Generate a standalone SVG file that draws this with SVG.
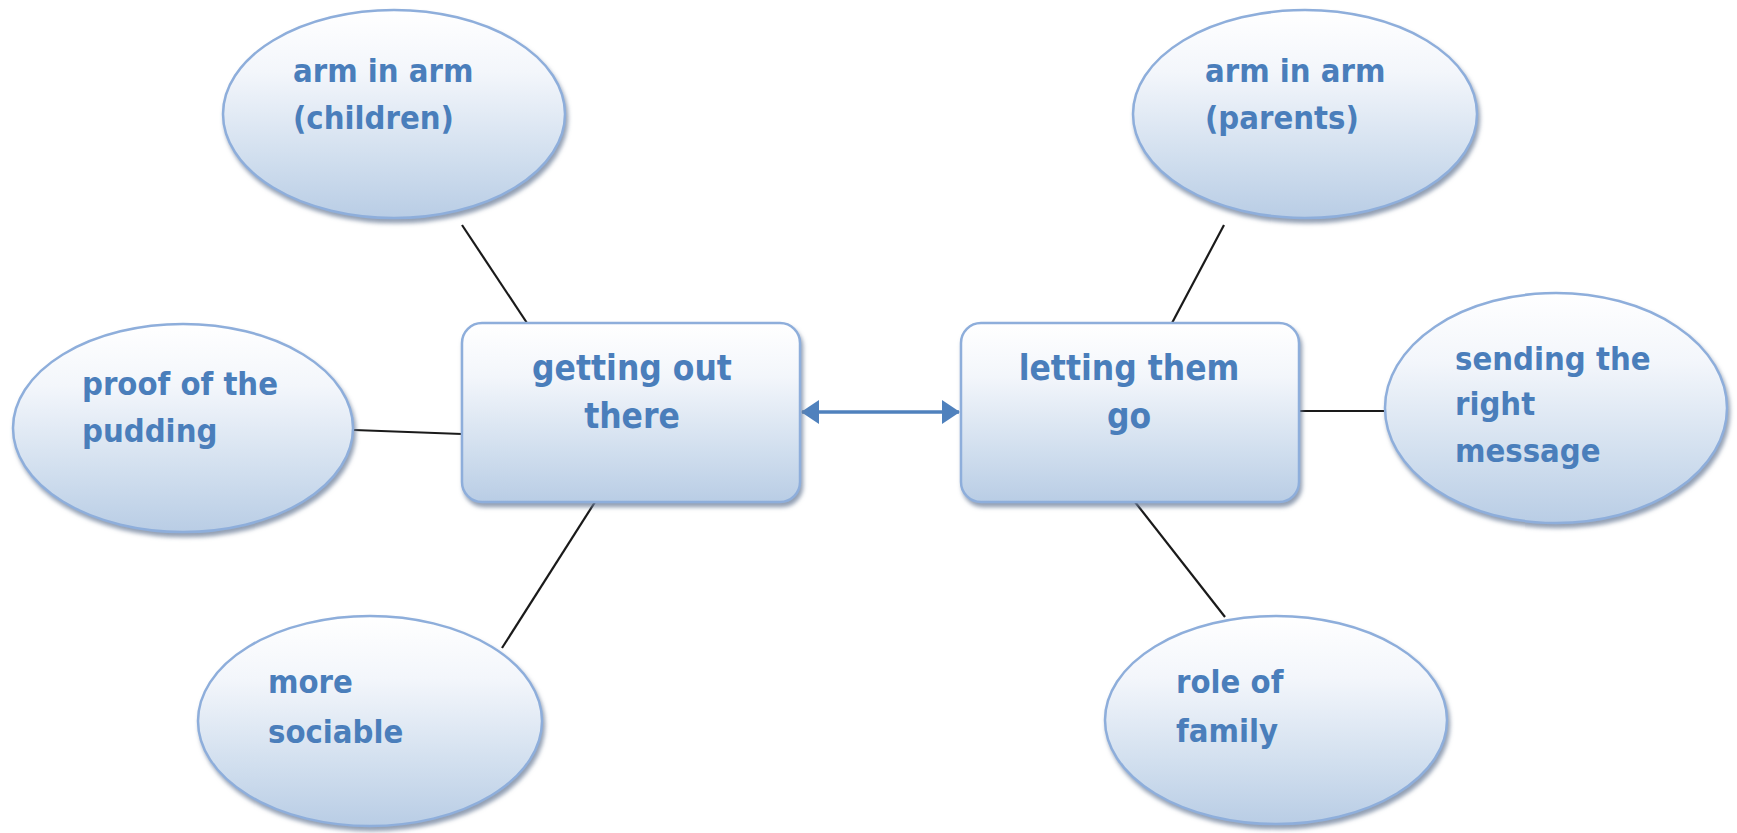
<svg xmlns="http://www.w3.org/2000/svg" width="1737" height="833" viewBox="0 0 1737 833">
<defs>
<linearGradient id="g" x1="0" y1="0" x2="0" y2="1">
<stop offset="0" stop-color="#ffffff"/>
<stop offset="0.3" stop-color="#f3f6fb"/>
<stop offset="0.72" stop-color="#d0deee"/>
<stop offset="1" stop-color="#b9cde5"/>
</linearGradient>
<filter id="sh" x="-10%" y="-10%" width="125%" height="130%">
<feDropShadow dx="2" dy="4" stdDeviation="2" flood-color="#6d7f99" flood-opacity="0.75"/>
</filter>
<marker id="ah" viewBox="0 0 18 24" refX="17" refY="12" markerWidth="18" markerHeight="24" markerUnits="userSpaceOnUse" orient="auto-start-reverse">
<path d="M0,0 L18,12 L0,24 Z" fill="#4f81bd"/>
</marker>
</defs>
<style>
.n{fill:url(#g);stroke:#8eaedb;stroke-width:2.5;filter:url(#sh)}
.t{font-family:"DejaVu Sans Condensed","DejaVu Sans",Tahoma,sans-serif;font-stretch:condensed;font-weight:bold;font-size:32.5px;fill:#4a7ebb}
.c{text-anchor:middle;font-size:35px}
.l{stroke:#1a1a1a;stroke-width:2.2;fill:none}
</style>
<g id="connectors">
<line class="l" x1="462" y1="225" x2="527" y2="323"/>
<line class="l" x1="354" y1="430" x2="462" y2="434"/>
<line class="l" x1="502" y1="648" x2="595" y2="502"/>
<line class="l" x1="1224" y1="225" x2="1172" y2="323"/>
<line class="l" x1="1299" y1="411" x2="1386" y2="411"/>
<line class="l" x1="1135" y1="502" x2="1225" y2="617"/>
<line x1="802" y1="412" x2="959" y2="412" stroke="#4f81bd" stroke-width="3.5" marker-start="url(#ah)" marker-end="url(#ah)"/>
</g>
<g id="n-children">
<ellipse class="n" cx="394" cy="114" rx="171" ry="104"/>
<text class="t" x="293" y="82">arm in arm</text>
<text class="t" x="293" y="129">(children)</text>
</g>
<g id="n-pudding">
<ellipse class="n" cx="183" cy="428" rx="170" ry="104"/>
<text class="t" x="82" y="395">proof of the</text>
<text class="t" x="82" y="442">pudding</text>
</g>
<g id="n-sociable">
<ellipse class="n" cx="370" cy="721" rx="172" ry="105"/>
<text class="t" x="268" y="693">more</text>
<text class="t" x="268" y="743">sociable</text>
</g>
<g id="n-getting">
<rect class="n" x="462" y="323" width="338" height="179" rx="20"/>
<text class="t c" x="632" y="380">getting out</text>
<text class="t c" x="632" y="428">there</text>
</g>
<g id="n-letting">
<rect class="n" x="961" y="323" width="338" height="179" rx="20"/>
<text class="t c" x="1129" y="380">letting them</text>
<text class="t c" x="1129" y="428">go</text>
</g>
<g id="n-parents">
<ellipse class="n" cx="1305" cy="114" rx="172" ry="104"/>
<text class="t" x="1205" y="82">arm in arm</text>
<text class="t" x="1205" y="129">(parents)</text>
</g>
<g id="n-sending">
<ellipse class="n" cx="1556" cy="408" rx="171" ry="115"/>
<text class="t" x="1455" y="370">sending the</text>
<text class="t" x="1455" y="415">right</text>
<text class="t" x="1455" y="462">message</text>
</g>
<g id="n-family">
<ellipse class="n" cx="1276" cy="720" rx="171" ry="104"/>
<text class="t" x="1176" y="693">role of</text>
<text class="t" x="1176" y="742">family</text>
</g>
</svg>
